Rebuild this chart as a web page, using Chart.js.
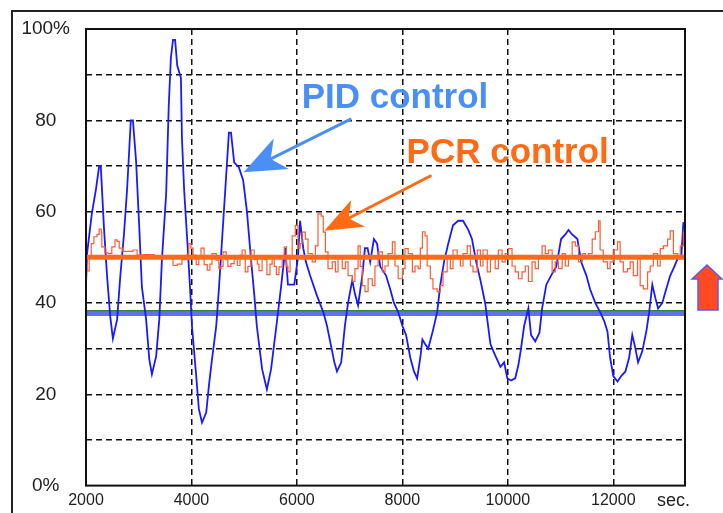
<!DOCTYPE html>
<html>
<head>
<meta charset="utf-8">
<script src="https://cdn.jsdelivr.net/npm/chart.js@4.4.0/dist/chart.umd.min.js"></script>
<style>
  html, body { margin: 0; padding: 0; background: #fff; }
  canvas { display: block; }
</style>
</head>
<body>
<canvas id="controlChart" width="723" height="513"></canvas>
<script>
// PID controlled output (%)
const pidTimes = [
    2000, 2020, 2110, 2190, 2250, 2280, 2340, 2400, 2460, 2510,
    2590, 2650, 2720, 2780, 2850, 2890, 2950, 3010, 3060, 3140,
    3200, 3250, 3330, 3390, 3440, 3520, 3570, 3610, 3650, 3690,
    3730, 3800, 3820, 3860, 3920, 3970, 4010, 4090, 4140, 4200,
    4280, 4330, 4390, 4470, 4520, 4580, 4660, 4710, 4750, 4810,
    4900, 4980, 5050, 5130, 5190, 5240, 5340, 5430, 5510, 5610,
    5700, 5780, 5830, 5950, 6020, 6060, 6120, 6170, 6250, 6380,
    6500, 6570, 6630, 6710, 6760, 6840, 6910, 6970, 7050, 7100,
    7160, 7240, 7290, 7340, 7390, 7460, 7520, 7580, 7690, 7770,
    7840, 7920, 8000, 8070, 8150, 8220, 8280, 8340, 8380, 8430,
    8490, 8580, 8660, 8720, 8790, 8870, 8960, 9060, 9150, 9250,
    9320, 9400, 9480, 9570, 9670, 9760, 9860, 9930, 9990, 10060,
    10140, 10200, 10250, 10310, 10390, 10440, 10520, 10600, 10650, 10730,
    10820, 10920, 10980, 11010, 11090, 11150, 11220, 11320, 11390, 11490,
    11560, 11660, 11750, 11830, 11890, 11940, 12000, 12080, 12150, 12230,
    12300, 12360, 12420, 12470, 12550, 12630, 12680, 12740, 12800, 12850,
    12930, 12990, 13080, 13160, 13220, 13290, 13330
];
const pidValues = [
    44, 50.8, 59.5, 65, 70, 70, 56.6, 45.8, 37, 32.2,
    36.4, 45.8, 55, 65, 80, 80, 71, 56.6, 43.5, 36.4,
    27.7, 24.4, 28.3, 36.4, 49.5, 63.8, 83.4, 93.7, 97.6, 97.6,
    92, 89.3, 76, 65, 53.8, 44, 34.9, 24, 16.8, 13.8,
    16, 21.8, 27.7, 35, 43, 53.8, 68.2, 77.3, 77.3, 70.8,
    69.7, 66.9, 60.3, 49.5, 42, 34.9, 25.5, 21.1, 25.5, 34.9,
    43.6, 52, 44, 44, 50, 58, 52, 49, 46, 41.6,
    38, 35, 31.6, 27, 25, 27, 35, 40, 45, 42,
    39.5, 46, 52, 52, 49, 54, 53, 48, 46, 43,
    40, 38, 35, 33, 28, 25, 23.5, 28, 32, 31,
    30, 34, 38, 44, 49, 53, 57, 58, 58, 56,
    54, 49, 45, 40, 31, 28.5, 26, 27, 23.5, 23,
    23.5, 26.4, 30, 35, 38.8, 33, 31.6, 33.5, 38.8, 44,
    46, 48, 52, 54, 55, 56, 55, 54, 49, 46,
    43, 40, 38, 36, 33.7, 28, 24, 22.8, 24, 25,
    28, 33, 30, 27, 29.4, 34, 38, 44, 41, 38.8,
    40, 42.5, 46, 48, 49.7, 50.3, 57.7
];

// PCR controlled output (%)
const pcrTimes = [
    2000, 2020, 2060, 2100, 2150, 2210, 2250, 2290, 2300, 2360,
    2420, 2490, 2550, 2590, 2630, 2700, 2780, 2890, 2970, 3080,
    3230, 3290, 3400, 3540, 3610, 3650, 3730, 3820, 3900, 3950,
    3990, 4030, 4090, 4140, 4180, 4240, 4300, 4350, 4390, 4470,
    4520, 4560, 4600, 4660, 4690, 4750, 4810, 4870, 4920, 4960,
    5020, 5070, 5130, 5190, 5250, 5280, 5340, 5380, 5430, 5490,
    5530, 5570, 5610, 5660, 5720, 5760, 5800, 5830, 5870, 5910,
    5970, 6020, 6060, 6100, 6160, 6210, 6290, 6350, 6400, 6460,
    6500, 6540, 6590, 6670, 6730, 6780, 6860, 6920, 6970, 7050,
    7100, 7160, 7200, 7240, 7290, 7350, 7430, 7480, 7540, 7620,
    7670, 7730, 7810, 7860, 7920, 8000, 8050, 8110, 8190, 8240,
    8300, 8340, 8380, 8430, 8470, 8530, 8580, 8660, 8720, 8770,
    8850, 8910, 8960, 9040, 9100, 9150, 9230, 9290, 9340, 9420,
    9480, 9530, 9610, 9670, 9700, 9760, 9820, 9890, 9950, 10010,
    10080, 10140, 10200, 10270, 10330, 10390, 10460, 10520, 10580, 10650,
    10710, 10770, 10840, 10900, 10960, 11030, 11090, 11150, 11220, 11280,
    11340, 11410, 11470, 11530, 11600, 11660, 11720, 11750, 11810, 11890,
    11940, 12000, 12080, 12130, 12190, 12270, 12320, 12380, 12460, 12510,
    12570, 12650, 12700, 12760, 12840, 12890, 12950, 13030, 13080, 13140,
    13220, 13270, 13330, 13360
];
const pcrValues = [
    47.5, 47, 50, 53, 54.5, 55, 56.2, 55.5, 52.3, 51,
    50.8, 52.3, 53.8, 53.5, 52, 51.3, 51.3, 51.6, 50.5, 50.6,
    50.6, 50.2, 50.2, 49.8, 50, 48.2, 48.5, 49.5, 50.5, 53,
    52, 50.5, 48.4, 50, 52, 48.4, 47.2, 48.5, 50.8, 49.4,
    47.5, 48, 51.2, 49.5, 48, 48.6, 49.6, 48.2, 50.5, 51.6,
    46.8, 48, 51.6, 49.5, 48.5, 47.1, 50, 49.5, 46.2, 48.5,
    50.2, 48, 46.2, 47.9, 50, 52.3, 48, 46.8, 50, 54.7,
    57, 52, 53, 55.5, 54, 50.8, 49, 52.5, 59.5, 59,
    55.5, 51.2, 47.5, 49, 46.8, 49.9, 47.5, 49, 46, 44.7,
    47.5, 52.5, 48, 43.8, 42.5, 45.3, 43.8, 48.1, 51.2, 46.8,
    48.1, 50.8, 53.4, 48.1, 45.3, 47.5, 51.9, 50.8, 46.8, 48.1,
    47.5, 52, 55.6, 54.7, 48.1, 45.3, 43.1, 42.5, 43.8, 46.8,
    50.1, 47.5, 51.6, 50.1, 48.1, 50.8, 52.5, 48.1, 46.8, 51.6,
    48.1, 51.6, 46.8, 49.5, 50.1, 47.5, 51.6, 49, 50.8, 51.9,
    48.1, 46.8, 45.3, 46.8, 48.1, 44.7, 49, 47.5, 50.1, 52.5,
    50.8, 51.6, 46.8, 49, 47.5, 50.8, 48.1, 50.1, 53.4, 52.5,
    49, 50.8, 50.1, 50.8, 54, 55.6, 58, 51.6, 49, 47.5,
    49, 51.6, 53.4, 49, 46.8, 47.5, 49, 46, 50.1, 43.8,
    43.1, 46.8, 48.1, 50.8, 48.1, 51.9, 52.5, 54, 55.8, 50.8,
    50.1, 52.5, 55.5, 56
];

// set point levels
const pidSetpoint = 37.8;
const greenLevel = 38.3;
const pcrSetpoint = 50;

const xMin = 2000;
const xMax = 13360;
const xTickValues = [2000, 4000, 6000, 8000, 10000, 12000];
const secTick = 13140;
const yLabels = { 0: '0%', 20: '20', 40: '40', 60: '60', 80: '80', 100: '100%' };

function toPoints(xs, ys) {
    return xs.map((x, i) => ({ x: x, y: ys[i] }));
}

function levelLine(v) {
    return [{ x: xMin, y: v }, { x: xMax, y: v }];
}

function drawArrow(ctx, x1, y1, x2, y2, color, width, headLen, headHalf) {
    const a = Math.atan2(y2 - y1, x2 - x1);
    const c = Math.cos(a), s = Math.sin(a);
    const bx = x2 - c * headLen, by = y2 - s * headLen;
    const nx = x2 - c * headLen * 0.72, ny = y2 - s * headLen * 0.72;
    ctx.save();
    ctx.strokeStyle = color;
    ctx.fillStyle = color;
    ctx.lineWidth = width;
    ctx.lineCap = 'round';
    ctx.beginPath();
    ctx.moveTo(x1, y1);
    ctx.lineTo(nx, ny);
    ctx.stroke();
    ctx.beginPath();
    ctx.moveTo(x2, y2);
    ctx.lineTo(bx - s * headHalf, by + c * headHalf);
    ctx.lineTo(nx, ny);
    ctx.lineTo(bx + s * headHalf, by - c * headHalf);
    ctx.closePath();
    ctx.fill();
    ctx.restore();
}

const framePlugin = {
    id: 'frame',
    beforeDraw(chart) {
        const ctx = chart.ctx;
        ctx.save();
        ctx.fillStyle = '#fff';
        ctx.fillRect(0, 0, chart.width, chart.height);
        ctx.strokeStyle = '#222';
        ctx.lineWidth = 2;
        ctx.strokeRect(12, 11, 800, 600);
        ctx.restore();
    },
    afterDraw(chart) {
        const ctx = chart.ctx;
        const area = chart.chartArea;
        const xs = chart.scales.x;
        const ys = chart.scales.y;
        ctx.save();
        ctx.strokeStyle = '#111';
        ctx.lineWidth = 2;
        ctx.strokeRect(area.left, area.top, area.right - area.left, area.bottom - area.top);

        ctx.font = 'bold 35px "Liberation Sans", Arial, sans-serif';
        ctx.textBaseline = 'alphabetic';
        ctx.textAlign = 'left';
        ctx.fillStyle = '#4a8ff5';
        ctx.fillText('PID control', xs.getPixelForValue(6090), ys.getPixelForValue(82.7));
        ctx.fillStyle = '#ff6a14';
        ctx.fillText('PCR control', xs.getPixelForValue(8080), ys.getPixelForValue(70.7));

        drawArrow(ctx, xs.getPixelForValue(7010), ys.getPixelForValue(80.2),
            xs.getPixelForValue(4990), ys.getPixelForValue(68.6), '#4a8ff5', 3, 42, 17);
        drawArrow(ctx, xs.getPixelForValue(8530), ys.getPixelForValue(67.8),
            xs.getPixelForValue(6520), ys.getPixelForValue(55.8), '#ff6a14', 3, 38, 15);

        // up arrow right of the plot
        const r = area.right;
        ctx.beginPath();
        ctx.moveTo(r + 22, 265);
        ctx.lineTo(r + 37, 279);
        ctx.lineTo(r + 33, 279);
        ctx.lineTo(r + 33, 310);
        ctx.lineTo(r + 13, 310);
        ctx.lineTo(r + 13, 279);
        ctx.lineTo(r + 7, 279);
        ctx.closePath();
        ctx.fillStyle = '#ff4a22';
        ctx.fill();
        ctx.strokeStyle = '#5a5af0';
        ctx.lineWidth = 1.5;
        ctx.stroke();
        ctx.restore();
    }
};

const ctx = document.getElementById('controlChart').getContext('2d');

new Chart(ctx, {
    type: 'line',
    data: {
        datasets: [
            {
                label: 'PCR set point',
                data: levelLine(pcrSetpoint),
                borderColor: '#ff6a1a',
                borderWidth: 5,
                order: 0
            },
            {
                label: 'PCR control',
                data: toPoints(pcrTimes, pcrValues),
                borderColor: '#ff5a32',
                borderWidth: 1.2,
                stepped: true,
                order: 1
            },
            {
                label: 'PID control',
                data: toPoints(pidTimes, pidValues),
                borderColor: '#1a1aff',
                borderWidth: 1.8,
                order: 2
            },
            {
                label: 'Green',
                data: levelLine(greenLevel),
                borderColor: '#2a8a2a',
                borderWidth: 1.2,
                order: 3
            },
            {
                label: 'PID set point',
                data: levelLine(pidSetpoint),
                borderColor: '#6170f0',
                borderWidth: 6,
                order: 4
            }
        ]
    },
    options: {
        responsive: false,
        animation: false,
        layout: { padding: { top: 29, right: 38, left: 0, bottom: 0 } },
        plugins: {
            legend: { display: false },
            tooltip: { enabled: false }
        },
        elements: {
            point: { radius: 0 },
            line: { tension: 0, fill: false }
        },
        scales: {
            x: {
                type: 'linear',
                min: xMin,
                max: xMax,
                afterBuildTicks: function(scale) {
                    scale.ticks = xTickValues.concat([secTick]).map(v => ({ value: v }));
                },
                afterFit: function(scale) {
                    scale.height = 25;
                },
                grid: {
                    drawTicks: false,
                    lineWidth: 1.5,
                    color: function(c) {
                        if (c.tick && (c.tick.value === xMin || c.tick.value === secTick)) {
                            return 'rgba(0,0,0,0)';
                        }
                        return '#111';
                    }
                },
                border: { display: false, dash: [6, 4] },
                ticks: {
                    autoSkip: false,
                    maxRotation: 0,
                    padding: 5,
                    color: '#222',
                    font: function(c) {
                        const big = c.tick && c.tick.value === secTick;
                        return { family: '"Liberation Sans", Arial, sans-serif', size: big ? 18 : 16 };
                    },
                    callback: function(value) {
                        return value === secTick ? 'sec.' : String(value);
                    }
                }
            },
            y: {
                min: 0,
                max: 100,
                afterFit: function(scale) {
                    scale.width = 86;
                },
                grid: {
                    drawTicks: false,
                    lineWidth: 1.5,
                    color: function(c) {
                        if (c.tick && (c.tick.value === 0 || c.tick.value === 100)) {
                            return 'rgba(0,0,0,0)';
                        }
                        return '#111';
                    }
                },
                border: { display: false, dash: [6, 4] },
                ticks: {
                    stepSize: 10,
                    crossAlign: 'center',
                    padding: 16,
                    color: '#222',
                    font: { family: '"Liberation Sans", Arial, sans-serif', size: 19 },
                    callback: function(value) {
                        return yLabels[value] !== undefined ? yLabels[value] : '';
                    }
                }
            }
        }
    },
    plugins: [framePlugin]
});
</script>
</body>
</html>
